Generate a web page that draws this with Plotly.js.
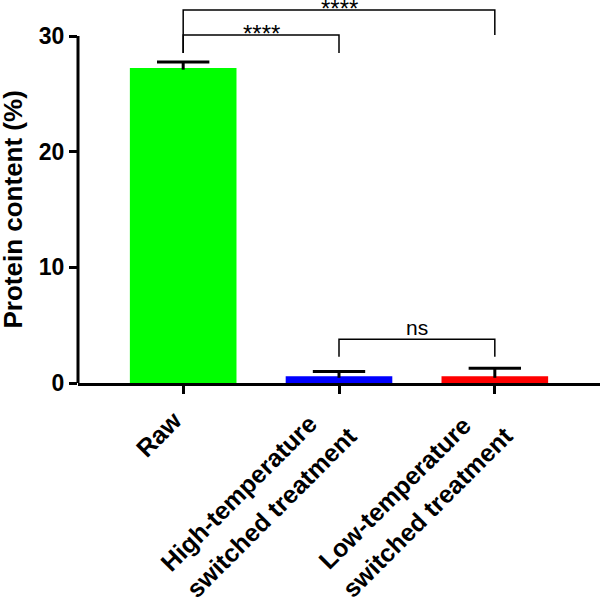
<!DOCTYPE html>
<html>
<head>
<meta charset="utf-8">
<script src="https://cdn.plot.ly/plotly-3.0.1.min.js"></script>
<style>html,body{margin:0;padding:0;background:#fff;}#chart{width:600px;height:606px;}</style>
</head>
<body>
<div id="chart"></div>
<script>
// Data
const categories = ["Raw", "High-temperature<br>switched treatment", "Low-temperature<br>switched treatment"];
const proteinMean = [27.1, 0.45, 0.45];
const proteinSD = [0.65, 0.55, 0.83];
const barColors = ["#00FF00", "#0000FF", "#FF0000"];
const yTickVals = [0, 10, 20, 30];
const yTickText = ["0", "10", "20", "30"];
// significance brackets
const bracketFrom = [0, 0, 1];
const bracketTo = [2, 1, 2];
const bracketTop = [32.25, 30.1, 3.78];
const bracketFootL = [28.53, 28.53, 2.27];
const bracketFootR = [30.1, 28.53, 2.27];
const bracketLabel = ["****", "****", "ns"];

const xIdx = categories.map((c, i) => i);
const FONT = 'Arial, Liberation Sans, sans-serif';

const barTrace = {
  type: 'bar',
  x: xIdx,
  y: proteinMean,
  width: 0.665,
  marker: {color: barColors, line: {color: barColors, width: 3}},
  hoverinfo: 'none'
};

// error bars (mean -> mean + SD, with a top cap), built from the data arrays
const capHalf = 0.168;
const errX = [], errY = [];
xIdx.forEach((x, i) => {
  const top = proteinMean[i] + proteinSD[i];
  errX.push(x - capHalf, x + capHalf, null, x, x, null);
  errY.push(top, top, null, top, proteinMean[i], null);
});
const errTrace = {
  type: 'scatter', mode: 'lines', x: errX, y: errY,
  line: {color: '#000', width: 3}, hoverinfo: 'none', cliponaxis: false
};

const shapes = [];
const annotations = [];
shapes.push({type: 'line', xref: 'paper', yref: 'y', x0: 0, x1: 0, y0: 0, y1: 30,
             line: {color: '#000', width: 3}});
bracketFrom.forEach((a, i) => {
  const b = bracketTo[i];
  shapes.push({type: 'path', xref: 'x', yref: 'y',
    path: `M ${a} ${bracketFootL[i]} L ${a} ${bracketTop[i]} L ${b} ${bracketTop[i]} L ${b} ${bracketFootR[i]}`,
    line: {color: '#000', width: 1.5}});
  const isNs = bracketLabel[i] === 'ns';
  annotations.push({xref: 'x', yref: 'y', x: (a + b) / 2, y: bracketTop[i], text: bracketLabel[i],
    showarrow: false, xanchor: 'center', yanchor: 'bottom', yshift: isNs ? -2 : -14,
    font: {family: FONT, size: isNs ? 21 : 24, color: '#000'}});
});
annotations.push({xref: 'paper', yref: 'y', x: 0, y: 15, xshift: -65, textangle: -90,
  text: '<b>Protein content (%)</b>', showarrow: false, xanchor: 'center', yanchor: 'middle',
  font: {family: FONT, size: 26, color: '#000'}});

// rotated category labels, one annotation per text line (pixel offsets from the tick)
const lineOffsets = {1: [[-24.4, 51.2]], 2: [[-100.6, 109.6], [-67.6, 128.8]]};
categories.forEach((c, i) => {
  const lines = c.split('<br>');
  lines.forEach((ln, j) => {
    const off = lineOffsets[lines.length][j];
    annotations.push({xref: 'x', yref: 'y', x: i, y: 0, xshift: off[0], yshift: -off[1],
      text: '<b>' + ln + '</b>', textangle: -45, showarrow: false,
      xanchor: 'center', yanchor: 'middle',
      font: {family: FONT, size: 25, color: '#000'}});
  });
});

const layout = {
  width: 600, height: 606,
  margin: {l: 78, r: 0, t: 0, b: 223, pad: 0},
  paper_bgcolor: '#fff', plot_bgcolor: '#fff',
  showlegend: false,
  xaxis: {
    range: [-0.675, 2.675], tickmode: 'array', tickvals: xIdx, showticklabels: false,
    ticks: 'outside', ticklen: 8, tickwidth: 3, tickcolor: '#000',
    showline: true, linecolor: '#000', linewidth: 3, showgrid: false, zeroline: false
  },
  yaxis: {
    range: [0, 33.12], tickmode: 'array', tickvals: yTickVals, ticktext: yTickText.map(t => '<b>' + t + '</b>'),
    ticks: 'outside', ticklen: 8, tickwidth: 3, tickcolor: '#000',
    showline: false, showgrid: false, zeroline: false,
    tickfont: {family: FONT, size: 23, color: '#000'}
  },
  shapes: shapes,
  annotations: annotations
};

Plotly.newPlot('chart', [barTrace, errTrace], layout, {displayModeBar: false, staticPlot: true});
</script>
</body>
</html>
